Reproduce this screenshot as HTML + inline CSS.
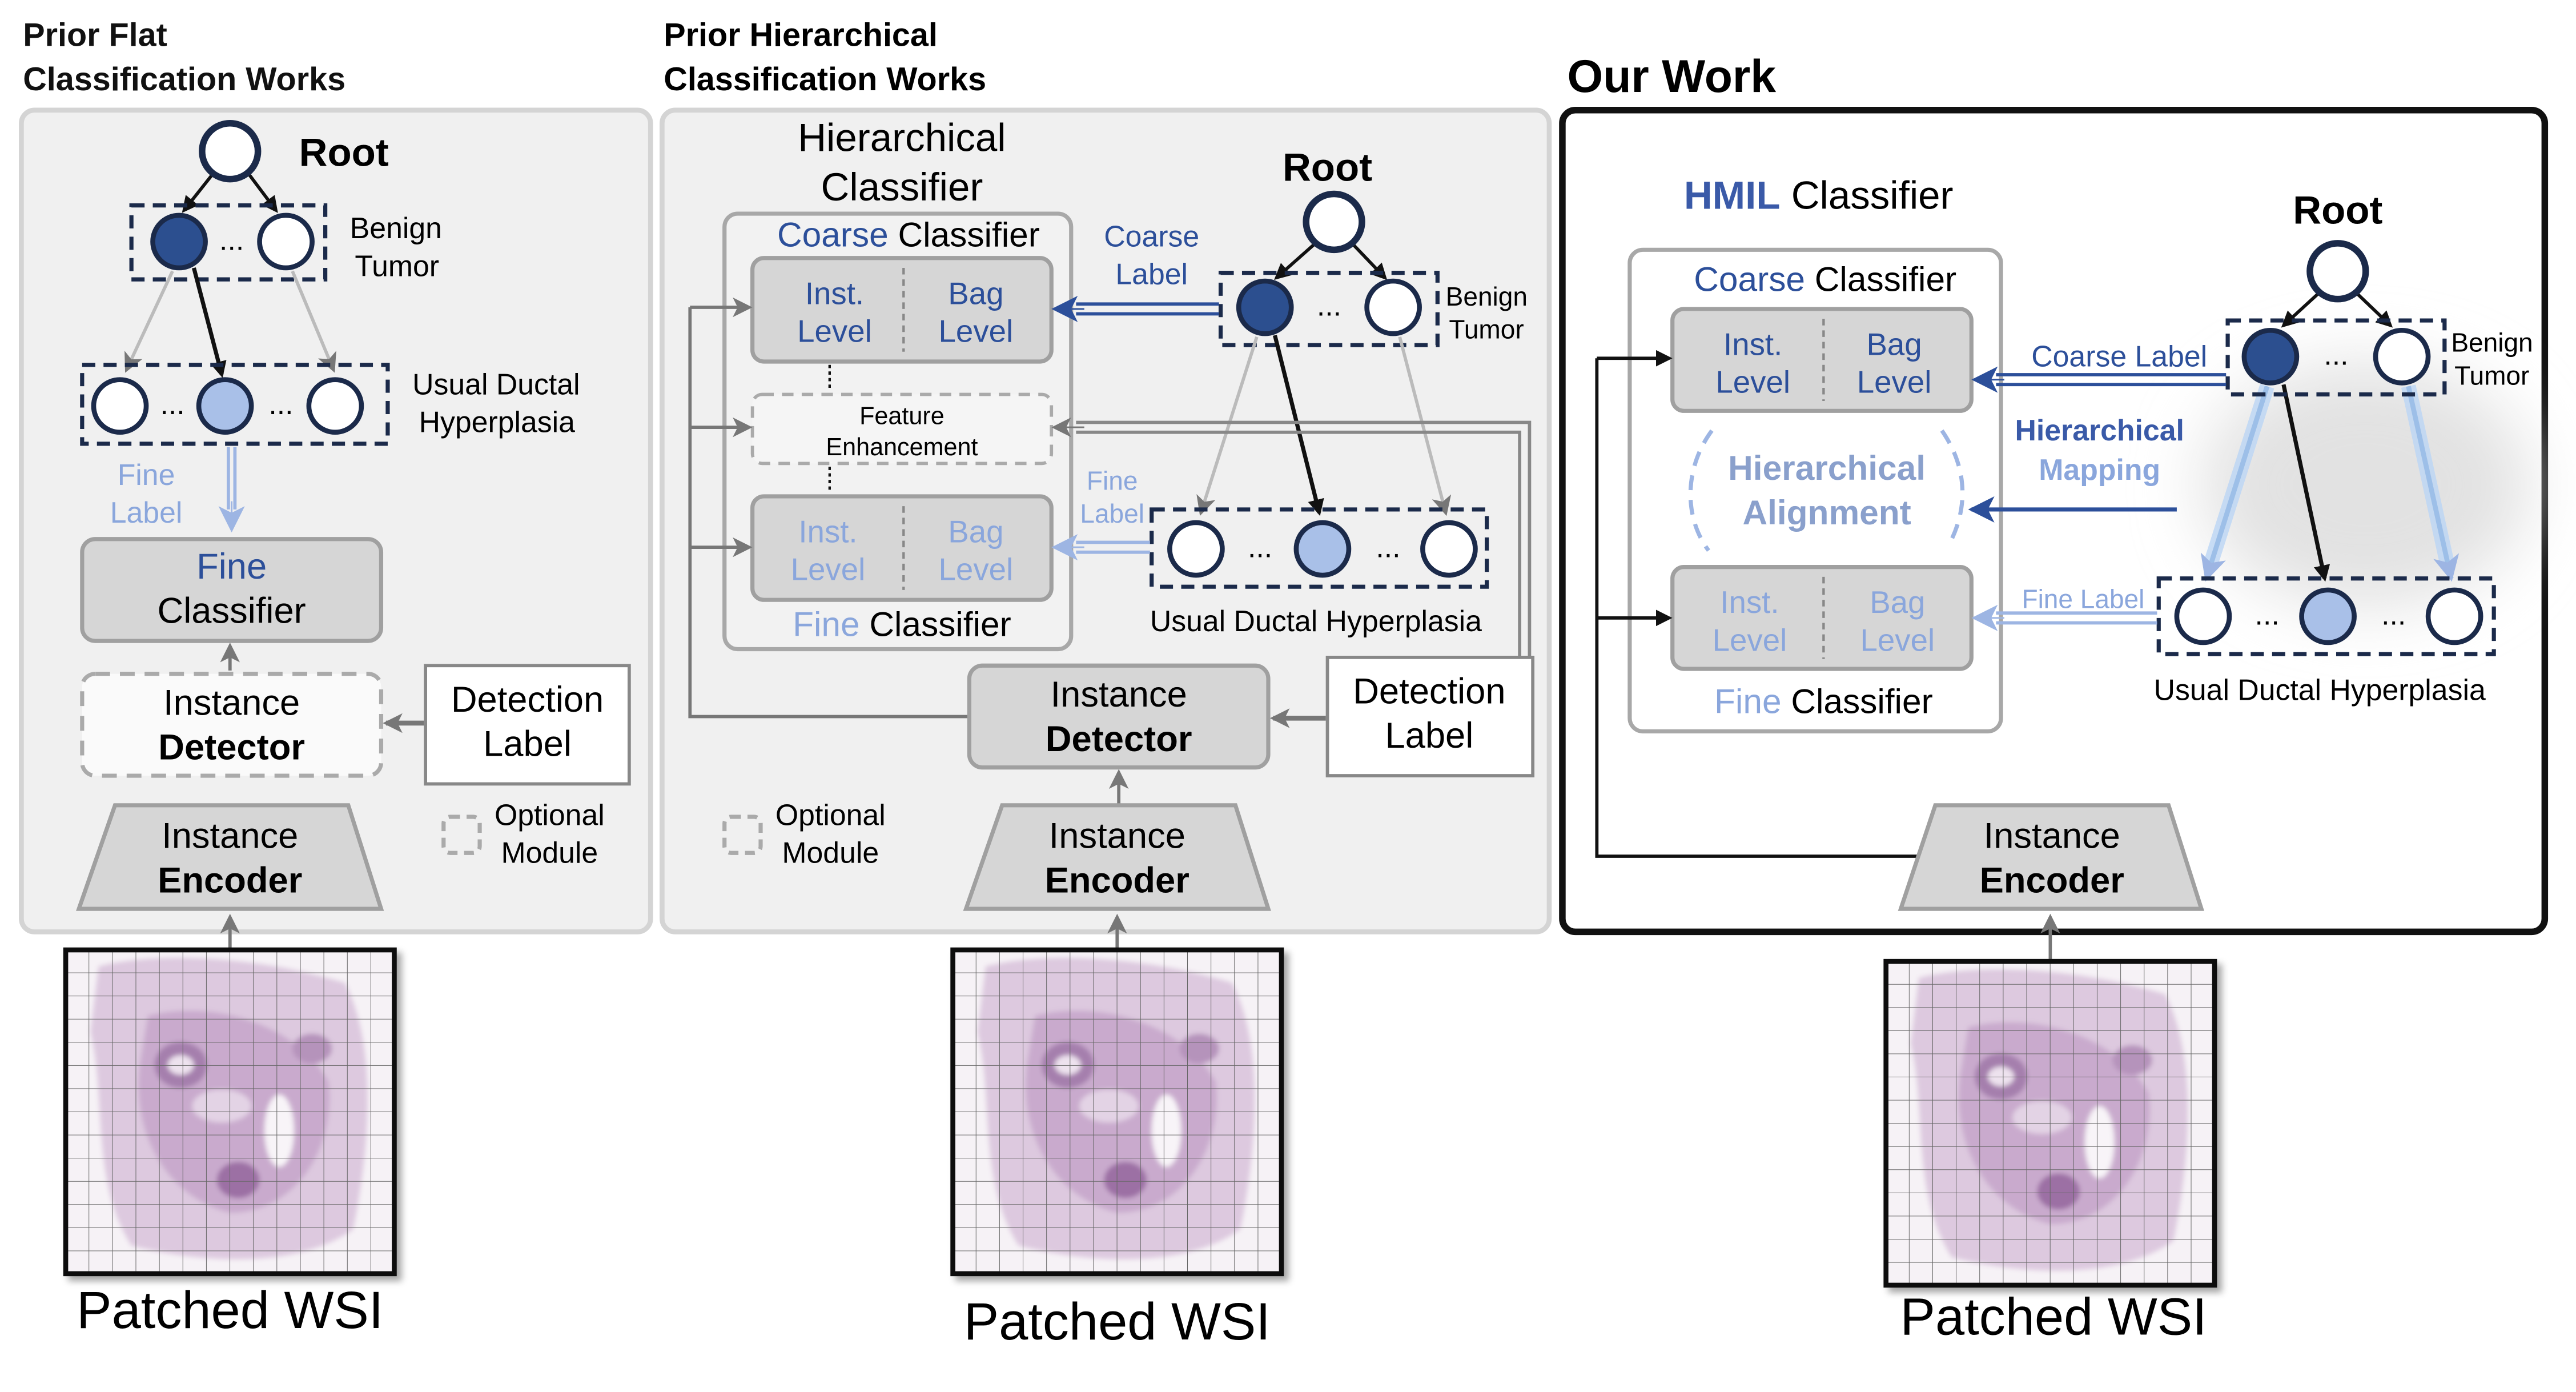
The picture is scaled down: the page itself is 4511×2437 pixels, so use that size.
<!DOCTYPE html>
<html><head><meta charset="utf-8"><style>html,body{margin:0;padding:0;background:#fff}svg{display:block}</style></head>
<body>
<svg width="4511" height="2437" viewBox="0 0 1568 847" preserveAspectRatio="none" xmlns="http://www.w3.org/2000/svg" font-family="Liberation Sans, sans-serif">
<defs>
<marker id="ab" markerWidth="10" markerHeight="10" refX="8" refY="5" orient="auto" markerUnits="userSpaceOnUse"><path d="M0,0 L10,5 L0,10 z" fill="#111"/></marker>
<marker id="ag" markerWidth="12" markerHeight="12" refX="10" refY="6" orient="auto" markerUnits="userSpaceOnUse"><path d="M0,0 L12,6 L0,12 L3,6 z" fill="#777"/></marker>
<marker id="an" markerWidth="16" markerHeight="16" refX="14" refY="8" orient="auto" markerUnits="userSpaceOnUse"><path d="M0,0 L16,8 L0,16 L4,8 z" fill="#2c4f9a"/></marker>
<marker id="al" markerWidth="16" markerHeight="16" refX="14" refY="8" orient="auto" markerUnits="userSpaceOnUse"><path d="M0,0 L16,8 L0,16 L4,8 z" fill="#9db5e3"/></marker>
<marker id="ak" markerWidth="10" markerHeight="10" refX="8" refY="5" orient="auto" markerUnits="userSpaceOnUse"><path d="M0,0 L10,5 L0,10 z" fill="#111"/></marker>
<filter id="blur" x="-50%" y="-50%" width="200%" height="200%"><feGaussianBlur stdDeviation="20"/></filter>
<filter id="sb"><feGaussianBlur stdDeviation="1.5"/></filter>
<filter id="sh"><feDropShadow dx="3" dy="3" stdDeviation="2" flood-opacity="0.35"/></filter>
<pattern id="grid" width="14.3" height="14.1" patternUnits="userSpaceOnUse"><path d="M14.3,0 V14.1 H0" fill="none" stroke="#666" stroke-width="0.7"/></pattern>
<g id="wsi">
<rect width="200" height="197" fill="#f6f2f6"/>
<g filter="url(#sb)">
<path d="M20,10 C60,0 120,5 170,20 C190,60 185,120 175,170 C140,195 80,190 40,180 C15,140 25,90 15,50 Z" fill="#ddc9df"/>
<path d="M50,40 C90,30 140,45 160,80 C165,120 140,160 100,160 C60,150 40,110 45,70 Z" fill="#c9aacd"/>
<ellipse cx="70" cy="70" rx="16" ry="14" fill="#a57fad"/><ellipse cx="70" cy="70" rx="8" ry="6" fill="#ede2ee"/>
<ellipse cx="130" cy="110" rx="9" ry="22" fill="#f8f4f8"/>
<ellipse cx="105" cy="140" rx="13" ry="11" fill="#9c6fa4"/>
<ellipse cx="150" cy="60" rx="12" ry="9" fill="#b593bb"/>
<ellipse cx="95" cy="95" rx="18" ry="10" fill="#e3d3e5"/>
</g>
<rect width="200" height="197" fill="url(#grid)"/>
<rect width="200" height="197" fill="none" stroke="#111" stroke-width="3"/>
</g>
</defs>
<rect width="1568" height="847" fill="#fff"/>

<!-- PANEL 1 -->
<text x="14" y="28" font-size="20" font-weight="bold" fill="#111">Prior Flat</text>
<text x="14" y="55" font-size="20" font-weight="bold" fill="#111">Classification Works</text>
<rect x="13" y="67" width="383" height="500" rx="8" fill="#f0f0f0" stroke="#d4d4d4" stroke-width="3"/>
<line x1="131" y1="104" x2="112" y2="128" stroke="#111" stroke-width="2" marker-end="url(#ab)"/>
<line x1="150" y1="104" x2="168" y2="128" stroke="#111" stroke-width="2" marker-end="url(#ab)"/>
<circle cx="140" cy="92" r="17" fill="#fff" stroke="#1b2a4a" stroke-width="4"/>
<text x="182" y="101" font-size="24" font-weight="bold">Root</text>
<rect x="80" y="125" width="118" height="45" fill="none" stroke="#1b2a4a" stroke-width="2.5" stroke-dasharray="8,5"/>
<circle cx="109" cy="147" r="16" fill="#2c4f8f" stroke="#1b2a4a" stroke-width="3"/>
<circle cx="174" cy="147" r="16" fill="#fff" stroke="#1b2a4a" stroke-width="3"/>
<text x="141" y="152" font-size="18" text-anchor="middle">...</text>
<text x="213" y="145" font-size="18">Benign</text><text x="216" y="168" font-size="18">Tumor</text>
<line x1="105" y1="165" x2="77" y2="225" stroke="#bbb" stroke-width="2" marker-end="url(#ag)"/>
<line x1="118" y1="163" x2="135" y2="228" stroke="#111" stroke-width="2.5" marker-end="url(#ab)"/>
<line x1="178" y1="165" x2="203" y2="225" stroke="#bbb" stroke-width="2" marker-end="url(#ag)"/>
<rect x="50" y="222" width="186" height="48" fill="none" stroke="#1b2a4a" stroke-width="2.5" stroke-dasharray="8,5"/>
<circle cx="73" cy="247" r="16" fill="#fff" stroke="#1b2a4a" stroke-width="3"/>
<circle cx="137" cy="247" r="16" fill="#a9c0e8" stroke="#1b2a4a" stroke-width="3"/>
<circle cx="204" cy="247" r="16" fill="#fff" stroke="#1b2a4a" stroke-width="3"/>
<text x="105" y="252" font-size="18" text-anchor="middle">...</text><text x="171" y="252" font-size="18" text-anchor="middle">...</text>
<text x="251" y="240" font-size="18">Usual Ductal</text><text x="255" y="263" font-size="18">Hyperplasia</text>
<text x="89" y="295" font-size="18" fill="#8aa6dc" text-anchor="middle">Fine</text><text x="89" y="318" font-size="18" fill="#8aa6dc" text-anchor="middle">Label</text>
<line x1="139" y1="272" x2="139" y2="310" stroke="#9db5e3" stroke-width="2"/><line x1="143" y1="272" x2="143" y2="310" stroke="#9db5e3" stroke-width="2"/>
<line x1="141" y1="305" x2="141" y2="322" stroke="#9db5e3" stroke-width="1" marker-end="url(#al)"/>
<rect x="50" y="328" width="182" height="62" rx="8" fill="#d6d6d6" stroke="#a0a0a0" stroke-width="2.5"/>
<text x="141" y="352" font-size="22" fill="#2c4f9a" text-anchor="middle">Fine</text>
<text x="141" y="379" font-size="22" text-anchor="middle">Classifier</text>
<line x1="140" y1="408" x2="140" y2="393" stroke="#777" stroke-width="2" marker-end="url(#ag)"/>
<rect x="50" y="410" width="182" height="62" rx="8" fill="#fafafa" stroke="#aaa" stroke-width="2.5" stroke-dasharray="9,6"/>
<text x="141" y="435" font-size="22" text-anchor="middle">Instance</text>
<text x="141" y="462" font-size="22" font-weight="bold" text-anchor="middle">Detector</text>
<rect x="259" y="405" width="124" height="72" fill="#fff" stroke="#888" stroke-width="2"/>
<text x="321" y="433" font-size="22" text-anchor="middle">Detection</text><text x="321" y="460" font-size="22" text-anchor="middle">Label</text>
<line x1="258" y1="440" x2="235" y2="440" stroke="#777" stroke-width="3" marker-end="url(#ag)"/>
<rect x="270" y="497" width="22" height="22" rx="4" fill="none" stroke="#aaa" stroke-width="2.5" stroke-dasharray="6,4"/>
<text x="301" y="502" font-size="18">Optional</text><text x="305" y="525" font-size="18">Module</text>
<polygon points="70,490 212,490 232,553 48,553" fill="#d6d6d6" stroke="#a0a0a0" stroke-width="2.5"/>
<text x="140" y="516" font-size="22" text-anchor="middle">Instance</text>
<text x="140" y="543" font-size="22" font-weight="bold" text-anchor="middle">Encoder</text>
<line x1="140" y1="577" x2="140" y2="558" stroke="#777" stroke-width="2" marker-end="url(#ag)"/>
<use href="#wsi" x="40" y="578" filter="url(#sh)"/>
<text x="140" y="808" font-size="32" text-anchor="middle">Patched WSI</text>

<!-- PANEL 2 -->
<text x="404" y="28" font-size="20" font-weight="bold">Prior Hierarchical</text>
<text x="404" y="55" font-size="20" font-weight="bold">Classification Works</text>
<rect x="403" y="67" width="540" height="500" rx="8" fill="#f0f0f0" stroke="#d4d4d4" stroke-width="3"/>
<text x="549" y="92" font-size="24" text-anchor="middle">Hierarchical</text>
<text x="549" y="122" font-size="24" text-anchor="middle">Classifier</text>
<rect x="441" y="130" width="211" height="265" rx="8" fill="#f2f2f2" stroke="#a8a8a8" stroke-width="2.5"/>
<text x="553" y="150" font-size="21" text-anchor="middle"><tspan fill="#2c4f9a">Coarse</tspan> Classifier</text>
<rect x="458" y="157" width="182" height="63" rx="7" fill="#d6d6d6" stroke="#a0a0a0" stroke-width="2.5"/>
<line x1="550" y1="163" x2="550" y2="214" stroke="#888" stroke-width="1.5" stroke-dasharray="4,3"/>
<text x="508" y="185" font-size="19" fill="#2c4f9a" text-anchor="middle">Inst.</text><text x="508" y="208" font-size="19" fill="#2c4f9a" text-anchor="middle">Level</text>
<text x="594" y="185" font-size="19" fill="#2c4f9a" text-anchor="middle">Bag</text><text x="594" y="208" font-size="19" fill="#2c4f9a" text-anchor="middle">Level</text>
<line x1="505" y1="222" x2="505" y2="238" stroke="#111" stroke-width="1.5" stroke-dasharray="2,2"/>
<line x1="505" y1="284" x2="505" y2="300" stroke="#111" stroke-width="1.5" stroke-dasharray="2,2"/>
<rect x="458" y="240" width="182" height="42" rx="6" fill="#f5f5f5" stroke="#aaa" stroke-width="2" stroke-dasharray="7,5"/>
<text x="549" y="258" font-size="15" text-anchor="middle">Feature</text><text x="549" y="277" font-size="15" text-anchor="middle">Enhancement</text>
<rect x="458" y="302" width="182" height="63" rx="7" fill="#d6d6d6" stroke="#a0a0a0" stroke-width="2.5"/>
<line x1="550" y1="308" x2="550" y2="359" stroke="#888" stroke-width="1.5" stroke-dasharray="4,3"/>
<text x="504" y="330" font-size="19" fill="#8aa6dc" text-anchor="middle">Inst.</text><text x="504" y="353" font-size="19" fill="#8aa6dc" text-anchor="middle">Level</text>
<text x="594" y="330" font-size="19" fill="#8aa6dc" text-anchor="middle">Bag</text><text x="594" y="353" font-size="19" fill="#8aa6dc" text-anchor="middle">Level</text>
<text x="549" y="387" font-size="21" text-anchor="middle"><tspan fill="#8aa6dc">Fine</tspan> Classifier</text>
<!-- tree -->
<text x="808" y="110" font-size="24" font-weight="bold" text-anchor="middle">Root</text>
<line x1="803" y1="146" x2="777" y2="169" stroke="#111" stroke-width="2" marker-end="url(#ab)"/>
<line x1="821" y1="146" x2="843" y2="169" stroke="#111" stroke-width="2" marker-end="url(#ab)"/>
<circle cx="812" cy="135" r="17" fill="#fff" stroke="#1b2a4a" stroke-width="4"/>
<rect x="743" y="166" width="132" height="44" fill="none" stroke="#1b2a4a" stroke-width="2.5" stroke-dasharray="8,5"/>
<circle cx="770" cy="187" r="16" fill="#2c4f8f" stroke="#1b2a4a" stroke-width="3"/>
<circle cx="848" cy="187" r="16" fill="#fff" stroke="#1b2a4a" stroke-width="3"/>
<text x="809" y="192" font-size="18" text-anchor="middle">...</text>
<text x="880" y="186" font-size="16">Benign</text><text x="882" y="206" font-size="16">Tumor</text>
<line x1="765" y1="205" x2="731" y2="312" stroke="#bbb" stroke-width="2" marker-end="url(#ag)"/>
<line x1="776" y1="204" x2="803" y2="312" stroke="#111" stroke-width="2.5" marker-end="url(#ab)"/>
<line x1="852" y1="205" x2="880" y2="312" stroke="#bbb" stroke-width="2" marker-end="url(#ag)"/>
<rect x="701" y="310" width="204" height="47" fill="none" stroke="#1b2a4a" stroke-width="2.5" stroke-dasharray="8,5"/>
<circle cx="728" cy="334" r="16" fill="#fff" stroke="#1b2a4a" stroke-width="3"/>
<circle cx="805" cy="334" r="16" fill="#a9c0e8" stroke="#1b2a4a" stroke-width="3"/>
<circle cx="882" cy="334" r="16" fill="#fff" stroke="#1b2a4a" stroke-width="3"/>
<text x="767" y="339" font-size="18" text-anchor="middle">...</text><text x="845" y="339" font-size="18" text-anchor="middle">...</text>
<text x="801" y="384" font-size="18" text-anchor="middle">Usual Ductal Hyperplasia</text>
<text x="701" y="150" font-size="18" fill="#2c4f9a" text-anchor="middle">Coarse</text><text x="701" y="173" font-size="18" fill="#2c4f9a" text-anchor="middle">Label</text>
<line x1="742" y1="185" x2="655" y2="185" stroke="#2c4f9a" stroke-width="2"/><line x1="742" y1="191" x2="655" y2="191" stroke="#2c4f9a" stroke-width="2"/>
<line x1="660" y1="188" x2="642" y2="188" stroke="#2c4f9a" stroke-width="1" marker-end="url(#an)"/>
<text x="677" y="298" font-size="16" fill="#8aa6dc" text-anchor="middle">Fine</text><text x="677" y="318" font-size="16" fill="#8aa6dc" text-anchor="middle">Label</text>
<line x1="700" y1="330" x2="655" y2="330" stroke="#9db5e3" stroke-width="2"/><line x1="700" y1="336" x2="655" y2="336" stroke="#9db5e3" stroke-width="2"/>
<line x1="660" y1="333" x2="642" y2="333" stroke="#9db5e3" stroke-width="1" marker-end="url(#al)"/>
<!-- feedback -->
<polyline points="925,400 925,263 655,263" fill="none" stroke="#888" stroke-width="2"/>
<polyline points="931,400 931,257 655,257" fill="none" stroke="#888" stroke-width="2"/>
<line x1="660" y1="260" x2="642" y2="260" stroke="#777" stroke-width="1" marker-end="url(#ag)"/>
<polyline points="590,436 420,436 420,187" fill="none" stroke="#777" stroke-width="2"/>
<line x1="420" y1="187" x2="456" y2="187" stroke="#777" stroke-width="2" marker-end="url(#ag)"/>
<line x1="420" y1="260" x2="456" y2="260" stroke="#777" stroke-width="2" marker-end="url(#ag)"/>
<line x1="420" y1="333" x2="456" y2="333" stroke="#777" stroke-width="2" marker-end="url(#ag)"/>
<rect x="590" y="405" width="182" height="62" rx="8" fill="#d6d6d6" stroke="#a0a0a0" stroke-width="2.5"/>
<text x="681" y="430" font-size="22" text-anchor="middle">Instance</text>
<text x="681" y="457" font-size="22" font-weight="bold" text-anchor="middle">Detector</text>
<rect x="808" y="400" width="125" height="72" fill="#fff" stroke="#888" stroke-width="2"/>
<text x="870" y="428" font-size="22" text-anchor="middle">Detection</text><text x="870" y="455" font-size="22" text-anchor="middle">Label</text>
<line x1="807" y1="437" x2="775" y2="437" stroke="#777" stroke-width="3" marker-end="url(#ag)"/>
<line x1="681" y1="489" x2="681" y2="470" stroke="#777" stroke-width="2" marker-end="url(#ag)"/>
<rect x="441" y="497" width="22" height="22" rx="4" fill="none" stroke="#aaa" stroke-width="2.5" stroke-dasharray="6,4"/>
<text x="472" y="502" font-size="18">Optional</text><text x="476" y="525" font-size="18">Module</text>
<polygon points="610,490 752,490 772,553 588,553" fill="#d6d6d6" stroke="#a0a0a0" stroke-width="2.5"/>
<text x="680" y="516" font-size="22" text-anchor="middle">Instance</text>
<text x="680" y="543" font-size="22" font-weight="bold" text-anchor="middle">Encoder</text>
<line x1="680" y1="577" x2="680" y2="558" stroke="#777" stroke-width="2" marker-end="url(#ag)"/>
<use href="#wsi" x="580" y="578" filter="url(#sh)"/>
<text x="680" y="815" font-size="32" text-anchor="middle">Patched WSI</text>

<!-- PANEL 3 -->
<text x="954" y="56" font-size="28" font-weight="bold">Our Work</text>
<rect x="951" y="67" width="598" height="500" rx="8" fill="#fff" stroke="#111" stroke-width="4"/>
<ellipse cx="1440" cy="295" rx="100" ry="75" fill="#e2e2e2" filter="url(#blur)"/>
<text x="1025" y="127" font-size="24"><tspan fill="#3a5aa8" font-weight="bold">HMIL</tspan> Classifier</text>
<rect x="992" y="152" width="226" height="293" rx="8" fill="#fff" stroke="#a8a8a8" stroke-width="2.5"/>
<text x="1111" y="177" font-size="21" text-anchor="middle"><tspan fill="#2c4f9a">Coarse</tspan> Classifier</text>
<rect x="1018" y="188" width="182" height="62" rx="7" fill="#d6d6d6" stroke="#a0a0a0" stroke-width="2.5"/>
<line x1="1110" y1="194" x2="1110" y2="244" stroke="#888" stroke-width="1.5" stroke-dasharray="4,3"/>
<text x="1067" y="216" font-size="19" fill="#2c4f9a" text-anchor="middle">Inst.</text><text x="1067" y="239" font-size="19" fill="#2c4f9a" text-anchor="middle">Level</text>
<text x="1153" y="216" font-size="19" fill="#2c4f9a" text-anchor="middle">Bag</text><text x="1153" y="239" font-size="19" fill="#2c4f9a" text-anchor="middle">Level</text>
<path d="M1042,262 C1025,285 1025,315 1040,335" fill="none" stroke="#9db5e3" stroke-width="2.5" stroke-dasharray="9,6"/>
<path d="M1182,262 C1198,285 1198,310 1186,332" fill="none" stroke="#9db5e3" stroke-width="2.5" stroke-dasharray="9,6"/>
<text x="1112" y="292" font-size="21" font-weight="bold" fill="#8aa0cc" text-anchor="middle">Hierarchical</text>
<text x="1112" y="319" font-size="21" font-weight="bold" fill="#8aa0cc" text-anchor="middle">Alignment</text>
<rect x="1018" y="345" width="182" height="62" rx="7" fill="#d6d6d6" stroke="#a0a0a0" stroke-width="2.5"/>
<line x1="1110" y1="351" x2="1110" y2="401" stroke="#888" stroke-width="1.5" stroke-dasharray="4,3"/>
<text x="1065" y="373" font-size="19" fill="#8aa6dc" text-anchor="middle">Inst.</text><text x="1065" y="396" font-size="19" fill="#8aa6dc" text-anchor="middle">Level</text>
<text x="1155" y="373" font-size="19" fill="#8aa6dc" text-anchor="middle">Bag</text><text x="1155" y="396" font-size="19" fill="#8aa6dc" text-anchor="middle">Level</text>
<text x="1110" y="434" font-size="21" text-anchor="middle"><tspan fill="#8aa6dc">Fine</tspan> Classifier</text>
<!-- tree -->
<text x="1423" y="136" font-size="24" font-weight="bold" text-anchor="middle">Root</text>
<line x1="1414" y1="176" x2="1390" y2="198" stroke="#111" stroke-width="2" marker-end="url(#ab)"/>
<line x1="1432" y1="176" x2="1455" y2="198" stroke="#111" stroke-width="2" marker-end="url(#ab)"/>
<circle cx="1423" cy="165" r="17" fill="#fff" stroke="#1b2a4a" stroke-width="4"/>
<line x1="1380" y1="235" x2="1345" y2="345" stroke="#bcd6f5" stroke-width="9" opacity="0.8"/>
<line x1="1466" y1="235" x2="1490" y2="345" stroke="#bcd6f5" stroke-width="9" opacity="0.8"/>
<line x1="1380" y1="235" x2="1343" y2="352" stroke="#9dbfe8" stroke-width="3" marker-end="url(#al)"/>
<line x1="1466" y1="235" x2="1492" y2="352" stroke="#9dbfe8" stroke-width="3" marker-end="url(#al)"/>
<line x1="1390" y1="234" x2="1415" y2="352" stroke="#111" stroke-width="2.5" marker-end="url(#ab)"/>
<rect x="1356" y="195" width="132" height="45" fill="none" stroke="#1b2a4a" stroke-width="2.5" stroke-dasharray="8,5"/>
<circle cx="1382" cy="217" r="16" fill="#2c4f8f" stroke="#1b2a4a" stroke-width="3"/>
<circle cx="1462" cy="217" r="16" fill="#fff" stroke="#1b2a4a" stroke-width="3"/>
<text x="1422" y="222" font-size="18" text-anchor="middle">...</text>
<text x="1492" y="214" font-size="16">Benign</text><text x="1494" y="234" font-size="16">Tumor</text>
<rect x="1314" y="352" width="204" height="46" fill="none" stroke="#1b2a4a" stroke-width="2.5" stroke-dasharray="8,5"/>
<circle cx="1341" cy="375" r="16" fill="#fff" stroke="#1b2a4a" stroke-width="3"/>
<circle cx="1417" cy="375" r="16" fill="#a9c0e8" stroke="#1b2a4a" stroke-width="3"/>
<circle cx="1494" cy="375" r="16" fill="#fff" stroke="#1b2a4a" stroke-width="3"/>
<text x="1380" y="380" font-size="18" text-anchor="middle">...</text><text x="1457" y="380" font-size="18" text-anchor="middle">...</text>
<text x="1412" y="426" font-size="18" text-anchor="middle">Usual Ductal Hyperplasia</text>
<text x="1290" y="223" font-size="18" fill="#2c4f9a" text-anchor="middle">Coarse Label</text>
<line x1="1355" y1="228" x2="1215" y2="228" stroke="#2c4f9a" stroke-width="2"/><line x1="1355" y1="234" x2="1215" y2="234" stroke="#2c4f9a" stroke-width="2"/>
<line x1="1220" y1="231" x2="1202" y2="231" stroke="#2c4f9a" stroke-width="1" marker-end="url(#an)"/>
<text x="1278" y="268" font-size="18" font-weight="bold" fill="#3a5aa8" text-anchor="middle">Hierarchical</text>
<text x="1278" y="292" font-size="18" font-weight="bold" fill="#8aa6dc" text-anchor="middle">Mapping</text>
<line x1="1325" y1="310" x2="1200" y2="310" stroke="#2c4f9a" stroke-width="2.5" marker-end="url(#an)"/>
<text x="1268" y="370" font-size="16" fill="#8aa6dc" text-anchor="middle">Fine Label</text>
<line x1="1313" y1="373" x2="1215" y2="373" stroke="#9db5e3" stroke-width="2"/><line x1="1313" y1="379" x2="1215" y2="379" stroke="#9db5e3" stroke-width="2"/>
<line x1="1220" y1="376" x2="1202" y2="376" stroke="#9db5e3" stroke-width="1" marker-end="url(#al)"/>
<polyline points="1175,521 972,521 972,218" fill="none" stroke="#111" stroke-width="2"/>
<line x1="972" y1="218" x2="1016" y2="218" stroke="#111" stroke-width="2" marker-end="url(#ak)"/>
<line x1="972" y1="376" x2="1016" y2="376" stroke="#111" stroke-width="2" marker-end="url(#ak)"/>
<polygon points="1178,490 1320,490 1340,553 1157,553" fill="#d6d6d6" stroke="#a0a0a0" stroke-width="2.5"/>
<text x="1249" y="516" font-size="22" text-anchor="middle">Instance</text>
<text x="1249" y="543" font-size="22" font-weight="bold" text-anchor="middle">Encoder</text>
<line x1="1248" y1="584" x2="1248" y2="558" stroke="#777" stroke-width="2" marker-end="url(#ag)"/>
<use href="#wsi" x="1148" y="585" filter="url(#sh)"/>
<text x="1250" y="812" font-size="32" text-anchor="middle">Patched WSI</text>
</svg>
</body></html>
